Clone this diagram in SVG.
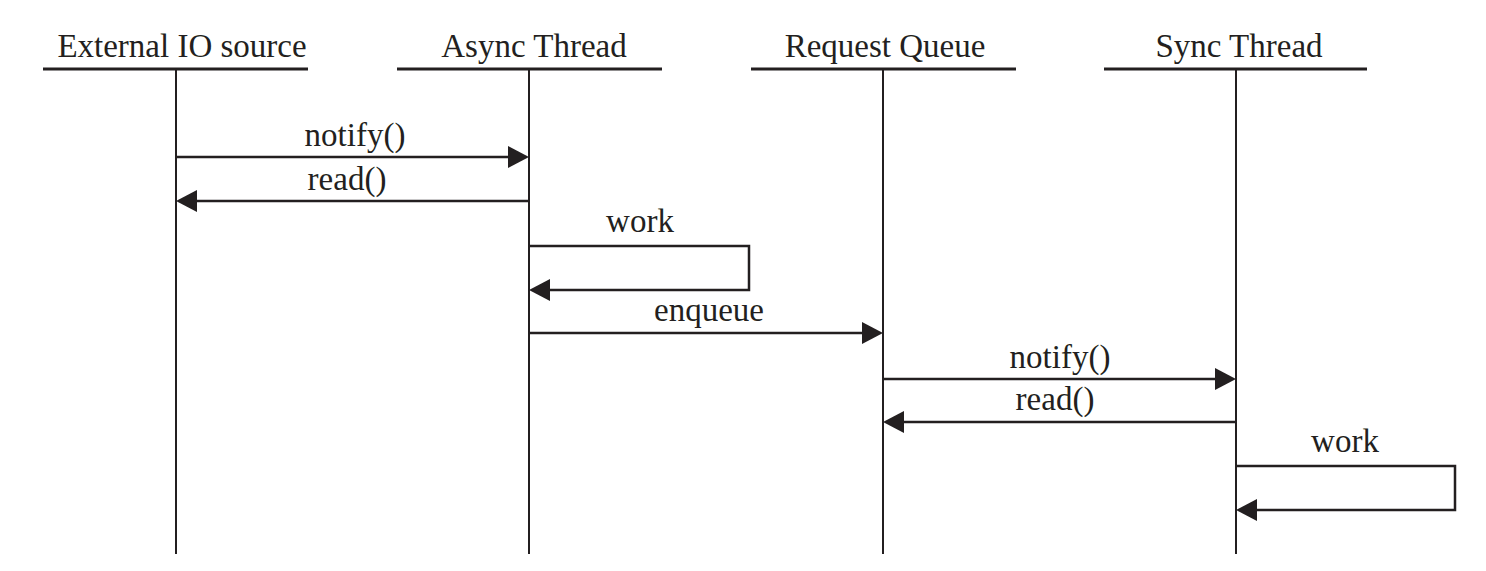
<svg xmlns="http://www.w3.org/2000/svg" width="1486" height="571" viewBox="0 0 1486 571">
<style>
.t{font-family:"Liberation Serif","Times New Roman",serif;font-size:33px;fill:#231f20;text-anchor:middle}
.hd{stroke:#231f20;stroke-width:3;fill:none}
.ll{stroke:#231f20;stroke-width:2;fill:none}
.m{stroke:#231f20;stroke-width:2.5;fill:none}
.ah{fill:#231f20}
</style>
<rect width="1486" height="571" fill="#fff"/>
<g id="ext">
<text class="t" x="182" y="57">External IO source</text>
<line class="hd" x1="43" y1="69" x2="308" y2="69"/>
<line class="ll" x1="176" y1="69" x2="176" y2="554"/>
</g>
<g id="async">
<text class="t" x="534" y="57">Async Thread</text>
<line class="hd" x1="397" y1="69" x2="662" y2="69"/>
<line class="ll" x1="529" y1="69" x2="529" y2="554"/>
</g>
<g id="queue">
<text class="t" x="885" y="57">Request Queue</text>
<line class="hd" x1="751" y1="69" x2="1016" y2="69"/>
<line class="ll" x1="883" y1="69" x2="883" y2="554"/>
</g>
<g id="sync">
<text class="t" x="1239" y="57">Sync Thread</text>
<line class="hd" x1="1104" y1="69" x2="1367" y2="69"/>
<line class="ll" x1="1236" y1="69" x2="1236" y2="554"/>
</g>
<g id="connectors">
<line class="m" x1="176" y1="157" x2="512" y2="157"/>
<polygon class="ah" points="529,157 508,146 508,168"/>
<text class="t" x="355" y="146">notify()</text>

<line class="m" x1="529" y1="201" x2="192" y2="201"/>
<polygon class="ah" points="176,201 197,190 197,212"/>
<text class="t" x="347" y="190">read()</text>

<polyline class="m" points="529,246 749,246 749,290 546,290"/>
<polygon class="ah" points="529,290 550,279 550,301"/>
<text class="t" x="640" y="232">work</text>

<line class="m" x1="529" y1="333" x2="866" y2="333"/>
<polygon class="ah" points="883,333 862,322 862,344"/>
<text class="t" x="709" y="321">enqueue</text>

<line class="m" x1="883" y1="379" x2="1219" y2="379"/>
<polygon class="ah" points="1236,379 1215,368 1215,390"/>
<text class="t" x="1060" y="368">notify()</text>

<line class="m" x1="1236" y1="422" x2="899" y2="422"/>
<polygon class="ah" points="883,422 904,411 904,433"/>
<text class="t" x="1055" y="410">read()</text>

<polyline class="m" points="1236,466 1455,466 1455,510 1253,510"/>
<polygon class="ah" points="1236,510 1257,499 1257,521"/>
<text class="t" x="1345" y="452">work</text>
</g>
</svg>
